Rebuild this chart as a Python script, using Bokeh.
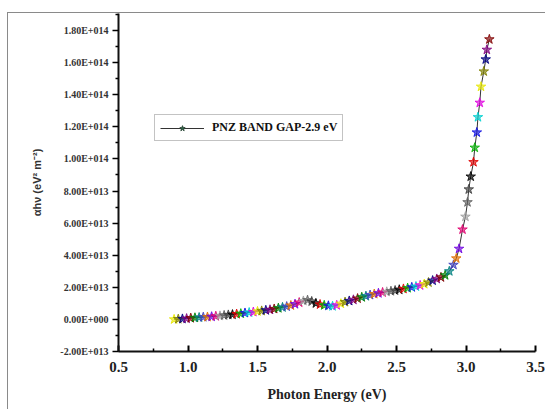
from bokeh.plotting import figure
from bokeh.models import (ColumnDataSource, FixedTicker, Legend, LegendItem, Range1d,
                          NumeralTickFormatter)
from bokeh.embed import file_html
from bokeh.resources import INLINE

# ---------------- data ----------------
photon_energy = [0.90, 0.93, 0.96, 0.99, 1.02, 1.05, 1.08, 1.11, 1.14, 1.17,
                 1.20, 1.23, 1.26, 1.29, 1.32, 1.35, 1.38, 1.41, 1.44, 1.47,
                 1.50, 1.53, 1.56, 1.59, 1.62, 1.65, 1.68, 1.71, 1.74, 1.77,
                 1.80, 1.83, 1.86, 1.89, 1.92, 1.95, 1.98, 2.01, 2.04, 2.07,
                 2.10, 2.13, 2.16, 2.19, 2.22, 2.25, 2.28, 2.31, 2.34, 2.37,
                 2.40, 2.43, 2.46, 2.49, 2.52, 2.55, 2.58, 2.61, 2.64, 2.67,
                 2.70, 2.73, 2.76, 2.79, 2.82, 2.85, 2.88, 2.91, 2.93, 2.95,
                 2.975, 2.996, 3.011, 3.020, 3.034, 3.054, 3.063, 3.078, 3.086, 3.099,
                 3.108, 3.128, 3.142, 3.150, 3.168]
# alpha*h*nu in units of 1E+013 eV^2 m^-2
ahv_e13 = [0.00, 0.02, 0.03, 0.05, 0.08, 0.10, 0.12, 0.14, 0.15, 0.17,
           0.20, 0.22, 0.25, 0.28, 0.30, 0.33, 0.36, 0.40, 0.43, 0.46,
           0.50, 0.53, 0.57, 0.60, 0.65, 0.70, 0.75, 0.80, 0.87, 0.95,
           1.05, 1.15, 1.20, 1.12, 1.00, 0.93, 0.88, 0.85, 0.82, 0.88,
           0.98, 1.08, 1.15, 1.22, 1.30, 1.38, 1.45, 1.52, 1.58, 1.63,
           1.68, 1.72, 1.76, 1.80, 1.85, 1.90, 1.95, 2.00, 2.05, 2.12,
           2.20, 2.30, 2.42, 2.52, 2.62, 2.75, 3.00, 3.40, 3.80, 4.40,
           5.60, 6.40, 7.30, 8.10, 8.90, 9.80, 10.70, 11.65, 12.60, 13.50,
           14.50, 15.45, 16.20, 16.80, 17.45]

x_ticks = [0.5, 1.0, 1.5, 2.0, 2.5, 3.0, 3.5]
y_ticks = [-2, 0, 2, 4, 6, 8, 10, 12, 14, 16, 18]
y_tick_labels = ["-2.00E+013", "0.00E+000", "2.00E+013", "4.00E+013", "6.00E+013",
                 "8.00E+013", "1.00E+014", "1.20E+014", "1.40E+014", "1.60E+014",
                 "1.80E+014"]
legend_label = "PNZ BAND GAP-2.9 eV"

# ---------------- styles ----------------
palette = ["#000000", "#E00000", "#00B000", "#1010E0", "#00D0D0", "#E000E0",
           "#E8E800", "#808000", "#000080", "#800080", "#800000", "#008000",
           "#008080", "#4040C0", "#E07000", "#7000E0", "#E00070", "#A0A0A0",
           "#606060", "#404040"]
black_idx = ahv_e13.index(8.90)
colors = [palette[(i - black_idx) % len(palette)] for i in range(len(photon_energy))]

src = ColumnDataSource(dict(x=photon_energy, y=ahv_e13, c=colors))

p = figure(width=538, height=397, output_backend="svg", toolbar_location=None,
           x_range=Range1d(0.5, 3.5), y_range=Range1d(-2, 19.06),
           min_border_left=110, min_border_right=11, min_border_top=0,
           min_border_bottom=59,
           styles={"margin-left": "7px", "margin-top": "12px",
                   "border-left": "1px solid #8a8a8a",
                   "border-top": "1px solid #8a8a8a"})
p.outline_line_color = None
p.grid.visible = False
p.background_fill_color = "white"
p.border_fill_color = "white"

p.line("x", "y", source=src, line_color="#333333", line_width=1)
p.scatter("x", "y", source=src, marker="star", size=10,
          fill_color="c", line_color="c", fill_alpha=0.65, line_alpha=0.85)

# legend proxies (a single NaN point, never drawn in the plot)
proxy = ColumnDataSource(dict(x=[float("nan")], y=[float("nan")]))
lg_line = p.line("x", "y", source=proxy, line_color="#333333", line_width=1)
lg_star = p.scatter("x", "y", source=proxy, marker="star", size=10,
                    fill_color="#2E6B4A", line_color="#2E4A3A")
legend = Legend(items=[LegendItem(label=legend_label, renderers=[lg_line, lg_star])],
                location=(36, 210), padding=5, spacing=0, margin=0,
                glyph_width=44, glyph_height=14, label_height=14,
                label_standoff=8, border_line_color="#888888",
                border_line_width=1.5, background_fill_alpha=1,
                label_text_font="Liberation Serif", label_text_font_style="bold",
                label_text_font_size="12px", label_text_color="#111111")
p.add_layout(legend, "center")

# axes
xa = p.xaxis[0]
xa.ticker = FixedTicker(ticks=x_ticks, minor_ticks=[t + 0.25 for t in x_ticks[:-1]])
xa.formatter = NumeralTickFormatter(format="0.0")
xa.axis_line_width = 2
xa.axis_line_color = "#111111"
xa.major_tick_in = 6
xa.major_tick_out = 0
xa.minor_tick_in = 3
xa.minor_tick_out = 0
xa.major_tick_line_width = 2
xa.minor_tick_line_width = 1.5
xa.major_label_text_font = "Liberation Serif"
xa.major_label_text_font_style = "bold"
xa.major_label_text_font_size = "15px"
xa.major_label_text_color = "#222222"
xa.major_label_standoff = 10
xa.axis_label = "Photon Energy (eV)"
xa.axis_label_text_font = "Liberation Serif"
xa.axis_label_text_font_style = "bold"
xa.axis_label_text_font_size = "14px"
xa.axis_label_text_color = "#222222"
xa.axis_label_standoff = 12

ya = p.yaxis[0]
ya.ticker = FixedTicker(ticks=y_ticks, minor_ticks=[t + 1 for t in y_ticks[:-1]] + [19])
ya.major_label_overrides = {t: s for t, s in zip(y_ticks, y_tick_labels)}
ya.axis_line_width = 2
ya.axis_line_color = "#111111"
ya.major_tick_in = 0
ya.major_tick_out = 6
ya.minor_tick_in = 0
ya.minor_tick_out = 3
ya.major_tick_line_width = 1.5
ya.minor_tick_line_width = 1.5
ya.major_label_text_font = "Liberation Serif"
ya.major_label_text_font_style = "bold"
ya.major_label_text_font_size = "10px"
ya.major_label_text_color = "#333333"
ya.major_label_standoff = 4
ya.axis_label = "\u03b1h\u03bd (eV\u00b2 m\u207b\u00b2)"
ya.axis_label_text_font = "Liberation Sans"
ya.axis_label_text_font_style = "bold"
ya.axis_label_text_font_size = "11px"
ya.axis_label_text_color = "#333333"
ya.axis_label_standoff = 14

open("out.html", "w").write(file_html(p, INLINE))
